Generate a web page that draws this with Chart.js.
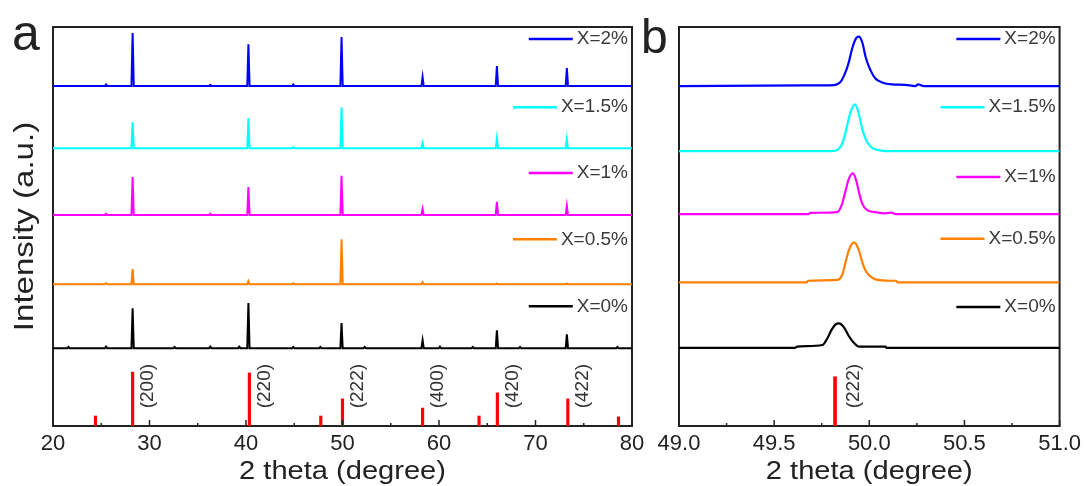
<!DOCTYPE html>
<html>
<head>
<meta charset="utf-8">
<title>XRD patterns</title>
<script src="https://cdn.jsdelivr.net/npm/chart.js@4.4.0/dist/chart.umd.min.js"></script>
<style>
    body { margin: 0; background: #fff; }
    #wrap { position: relative; width: 1086px; height: 486px; overflow: hidden; }
    #chartA { position: absolute; left: 0; top: 0; }
    #chartB { position: absolute; left: 640px; top: 0; }
</style>
</head>
<body>
<div id="wrap">
    <canvas id="chartA" width="660" height="486"></canvas>
    <canvas id="chartB" width="446" height="486"></canvas>
</div>
<script>
// ---- data ----
const sampleLabels = ['X=2%', 'X=1.5%', 'X=1%', 'X=0.5%', 'X=0%'];

// panel a: stacked offsets (y units) and peak intensities above each baseline
const offsetsA = [85.2, 69.6, 52.9, 35.5, 19.5];
const peakPosA = [21.6, 25.5, 28.25, 32.6, 36.3, 39.3, 40.25, 44.9, 47.7, 49.9, 52.3, 58.3, 60.1, 63.5, 66.0, 68.4, 73.25, 78.5];
const intA_2   = [0, 0.4, 13.3, 0, 0.3, 0, 10.5, 0.4, 0, 12.3, 0, 2.3, 0, 0, 5.0, 0, 4.5, 0];
const intA_15  = [0, 0, 6.5, 0, 0, 0, 7.5, 0.3, 0, 10.3, 0, 1.3, 0, 0, 2.5, 0, 2.3, 0];
const intA_1   = [0, 0.3, 9.5, 0, 0.3, 0, 7.0, 0, 0, 9.8, 0, 1.5, 0, 0, 3.3, 0, 2.3, 0];
const intA_05  = [0, 0.3, 3.8, 0, 0, 0, 0.8, 0.3, 0, 11.3, 0, 0.5, 0, 0, 0.2, 0, 0.2, 0];
const intA_0   = [0.3, 0.4, 10.0, 0.3, 0.4, 0.4, 11.3, 0.3, 0.3, 6.3, 0.3, 2.0, 0.4, 0.3, 4.5, 0.3, 3.5, 0.3];

// standard card (red sticks)
const refPosA = [24.4, 28.25, 40.35, 47.75, 50.0, 58.3, 64.15, 66.05, 73.35, 78.6];
const refIntA = [2.5, 13.5, 13.3, 2.5, 6.8, 4.5, 2.5, 8.3, 6.8, 2.3];
const hklPosA = [28.25, 40.35, 50.0, 58.3, 66.05, 73.35];
const hklA    = ['(200)', '(220)', '(222)', '(400)', '(420)', '(422)'];

// panel b: (222) reflection, scanned curves
const offsetsB = [85.2, 68.9, 53.1, 36.0, 19.6];
const blueBx    = [49.0, 49.66, 49.815, 49.85, 49.876, 49.893, 49.91, 49.931, 49.945, 49.962, 49.983, 50.006, 50.032, 50.067, 50.119, 50.189, 50.241, 50.258, 50.285, 51.0];
const blueBy    = [0, 0.15, 0.25, 1.1, 3.6, 6.1, 9.4, 12.0, 12.4, 11.1, 6.9, 4.0, 1.9, 0.9, 0.4, 0.3, 0, 0.4, 0, 0];
const cyanBx    = [49.0, 49.805, 49.85, 49.867, 49.884, 49.902, 49.924, 49.945, 49.962, 49.983, 50.015, 50.05, 50.086, 51.0];
const cyanBy    = [0, 0, 1.1, 3.2, 6.5, 9.8, 11.7, 9.4, 5.7, 2.8, 0.8, 0.25, 0, 0];
const magentaBx = [49.0, 49.68, 49.69, 49.832, 49.858, 49.876, 49.893, 49.914, 49.931, 49.945, 49.962, 49.989, 50.032, 50.085, 50.119, 50.137, 51.0];
const magentaBy = [0, 0, 0.3, 0.5, 2.7, 6.0, 8.9, 10.2, 8.5, 5.6, 2.7, 1.0, 0.5, 0.2, 0.4, 0, 0];
const orangeBx  = [49.0, 49.67, 49.68, 49.83, 49.858, 49.876, 49.893, 49.919, 49.945, 49.962, 49.983, 50.006, 50.032, 50.117, 50.14, 50.15, 51.0];
const orangeBy  = [0, 0, 0.4, 0.6, 1.9, 5.2, 8.1, 10.0, 8.1, 5.2, 2.7, 1.5, 0.75, 0.4, 0.4, 0, 0];
const blackBx   = [49.0, 49.61, 49.62, 49.754, 49.78, 49.803, 49.824, 49.841, 49.867, 49.893, 49.919, 49.945, 50.085, 50.09, 51.0];
const blackBy   = [0, 0, 0.3, 0.7, 2.4, 4.6, 5.9, 6.1, 5.1, 2.9, 1.25, 0.3, 0.3, 0, 0];
const refPosB = [49.82];
const refIntB = [12.3];
const hklPosB = [49.82];
const hklB    = ['(222)'];

// ---- styles / layout ----
const FONT = 'Arial, "Liberation Sans", sans-serif';
const INK = '#222';
const colors = ['#0000ff', '#00ffff', '#ff00ff', '#ff8000', '#000000'];
const legendRiseA = [11.8, 10.3, 10.5, 11.3, 10.5];
const legendRiseB = [11.8, 11.0, 9.3, 10.9, 10.2];

function stickTrace(positions, heights, offset, xMin, xMax) {
    const pts = [{ x: xMin, y: offset }];
    positions.forEach((p, i) => {
        pts.push({ x: p - 0.12, y: offset });
        pts.push({ x: p, y: offset + heights[i] });
        pts.push({ x: p + 0.12, y: offset });
    });
    pts.push({ x: xMax, y: offset });
    return pts;
}

function curveTrace(xs, ys, offset) {
    return xs.map((x, i) => ({ x: x, y: offset + ys[i] }));
}

// frame, inward ticks, legends, hkl labels, titles
const framePlugin = {
    id: 'frame',
    beforeDatasetsDraw(chart) {
        const { ctx, chartArea: ca } = chart;
        ctx.save();
        ctx.strokeStyle = INK;
        ctx.lineWidth = 2;
        ctx.strokeRect(ca.left, ca.top, ca.right - ca.left, ca.bottom - ca.top);
        ctx.restore();
    }
};

const overlayPlugin = {
    id: 'overlay',
    afterDatasetsDraw(chart, args, opts) {
        const { ctx, chartArea: ca } = chart;
        const xs = chart.scales.x, ys = chart.scales.y;
        ctx.save();

        // inward ticks
        const majors = xs.ticks.map(t => t.value);
        ctx.strokeStyle = INK;
        ctx.lineWidth = 1.5;
        majors.forEach((v, i) => {
            const px = xs.getPixelForValue(v);
            ctx.beginPath(); ctx.moveTo(px, ca.bottom); ctx.lineTo(px, ca.bottom - 6); ctx.stroke();
            if (i < majors.length - 1) {
                const mx = xs.getPixelForValue((v + majors[i + 1]) / 2);
                ctx.beginPath(); ctx.moveTo(mx, ca.bottom); ctx.lineTo(mx, ca.bottom - 3); ctx.stroke();
            }
        });

        // legend entries, one per stacked trace
        ctx.font = '19px ' + FONT;
        ctx.textAlign = 'right';
        ctx.textBaseline = 'middle';
        chart.data.datasets.forEach(ds => {
            if (ds.legendY === undefined) return;
            const y = ys.getPixelForValue(ds.legendY);
            const right = ca.right - 4;
            const w = ctx.measureText(ds.label).width;
            ctx.strokeStyle = ds.borderColor;
            ctx.lineWidth = 2.5;
            ctx.beginPath(); ctx.moveTo(right - w - 48, y); ctx.lineTo(right - w - 4, y); ctx.stroke();
            ctx.fillStyle = '#3a3a3a';
            ctx.fillText(ds.label, right, y);
        });

        // hkl labels, rotated
        ctx.font = '19px ' + FONT;
        ctx.fillStyle = '#333';
        ctx.textAlign = 'center';
        opts.hklPos.forEach((p, i) => {
            ctx.save();
            ctx.translate(xs.getPixelForValue(p) + opts.hklShift, ys.getPixelForValue(10));
            ctx.rotate(-Math.PI / 2);
            ctx.fillText(opts.hkl[i], 0, 0);
            ctx.restore();
        });

        // x title
        ctx.fillStyle = INK;
        ctx.font = '25.5px ' + FONT;
        ctx.textBaseline = 'alphabetic';
        ctx.save();
        ctx.translate((ca.left + ca.right) / 2, 479);
        ctx.scale(1.14, 1);
        ctx.fillText(opts.xTitle, 0, 0);
        ctx.restore();

        // y title
        if (opts.yTitle) {
            ctx.save();
            ctx.font = '28px ' + FONT;
            ctx.translate(33, (ca.top + ca.bottom) / 2);
            ctx.rotate(-Math.PI / 2);
            ctx.scale(1.18, 1);
            ctx.fillText(opts.yTitle, 0, 0);
            ctx.restore();
        }

        // panel letter
        ctx.textAlign = 'left';
        ctx.font = opts.letterSize + 'px ' + FONT;
        ctx.fillText(opts.letter, opts.letterX, opts.letterY);
        ctx.restore();
    }
};

function sampleDatasets(traces, offsets, rise, curved) {
    return traces.map((pts, i) => ({
        label: sampleLabels[i],
        data: pts,
        borderColor: colors[i],
        borderWidth: curved ? 2.2 : 2,
        pointRadius: 0,
        fill: false,
        tension: 0,
        cubicInterpolationMode: curved ? 'monotone' : 'default',
        legendY: offsets[i] + rise[i]
    }));
}

function refDataset(pos, ints, thickness) {
    return {
        type: 'bar',
        label: 'standard',
        data: pos.map((x, i) => ({ x: x, y: ints[i] })),
        backgroundColor: '#ff0000',
        borderWidth: 0,
        barThickness: thickness
    };
}

function makeOptions(xMin, xMax, step, pad, overlay) {
    return {
        responsive: false,
        animation: false,
        layout: { padding: pad },
        plugins: {
            legend: { display: false },
            tooltip: { enabled: false },
            overlay: overlay
        },
        scales: {
            x: {
                type: 'linear',
                min: xMin,
                max: xMax,
                offset: false,
                grid: { display: false, drawTicks: false },
                border: { display: false },
                ticks: {
                    stepSize: step,
                    padding: 5,
                    maxRotation: 0,
                    color: INK,
                    font: { size: 22, family: FONT },
                    callback: v => step < 1 ? v.toFixed(1) : v
                },
                afterFit: s => { s.height = 60; }
            },
            y: { display: false, min: 0, max: 100 }
        }
    };
}

const tracesA = [intA_2, intA_15, intA_1, intA_05, intA_0]
    .map((ints, i) => stickTrace(peakPosA, ints, offsetsA[i], 20, 80));

new Chart(document.getElementById('chartA'), {
    type: 'line',
    data: { datasets: [...sampleDatasets(tracesA, offsetsA, legendRiseA, false), refDataset(refPosA, refIntA, 2.5)] },
    options: makeOptions(20, 80, 10, { left: 53, right: 28, top: 27, bottom: 0 }, {
        hklPos: hklPosA, hkl: hklA, hklShift: 15,
        xTitle: '2 theta (degree)', yTitle: 'Intensity (a.u.)',
        letter: 'a', letterSize: 50, letterX: 12, letterY: 50
    }),
    plugins: [framePlugin, overlayPlugin]
});

const tracesB = [
    curveTrace(blueBx, blueBy, offsetsB[0]),
    curveTrace(cyanBx, cyanBy, offsetsB[1]),
    curveTrace(magentaBx, magentaBy, offsetsB[2]),
    curveTrace(orangeBx, orangeBy, offsetsB[3]),
    curveTrace(blackBx, blackBy, offsetsB[4])
];

new Chart(document.getElementById('chartB'), {
    type: 'line',
    data: { datasets: [...sampleDatasets(tracesB, offsetsB, legendRiseB, true), refDataset(refPosB, refIntB, 3)] },
    options: makeOptions(49, 51, 0.5, { left: 39, right: 24, top: 27, bottom: 0 }, {
        hklPos: hklPosB, hkl: hklB, hklShift: 19,
        xTitle: '2 theta (degree)', yTitle: null,
        letter: 'b', letterSize: 48, letterX: 1, letterY: 53
    }),
    plugins: [framePlugin, overlayPlugin]
});
</script>
</body>
</html>
